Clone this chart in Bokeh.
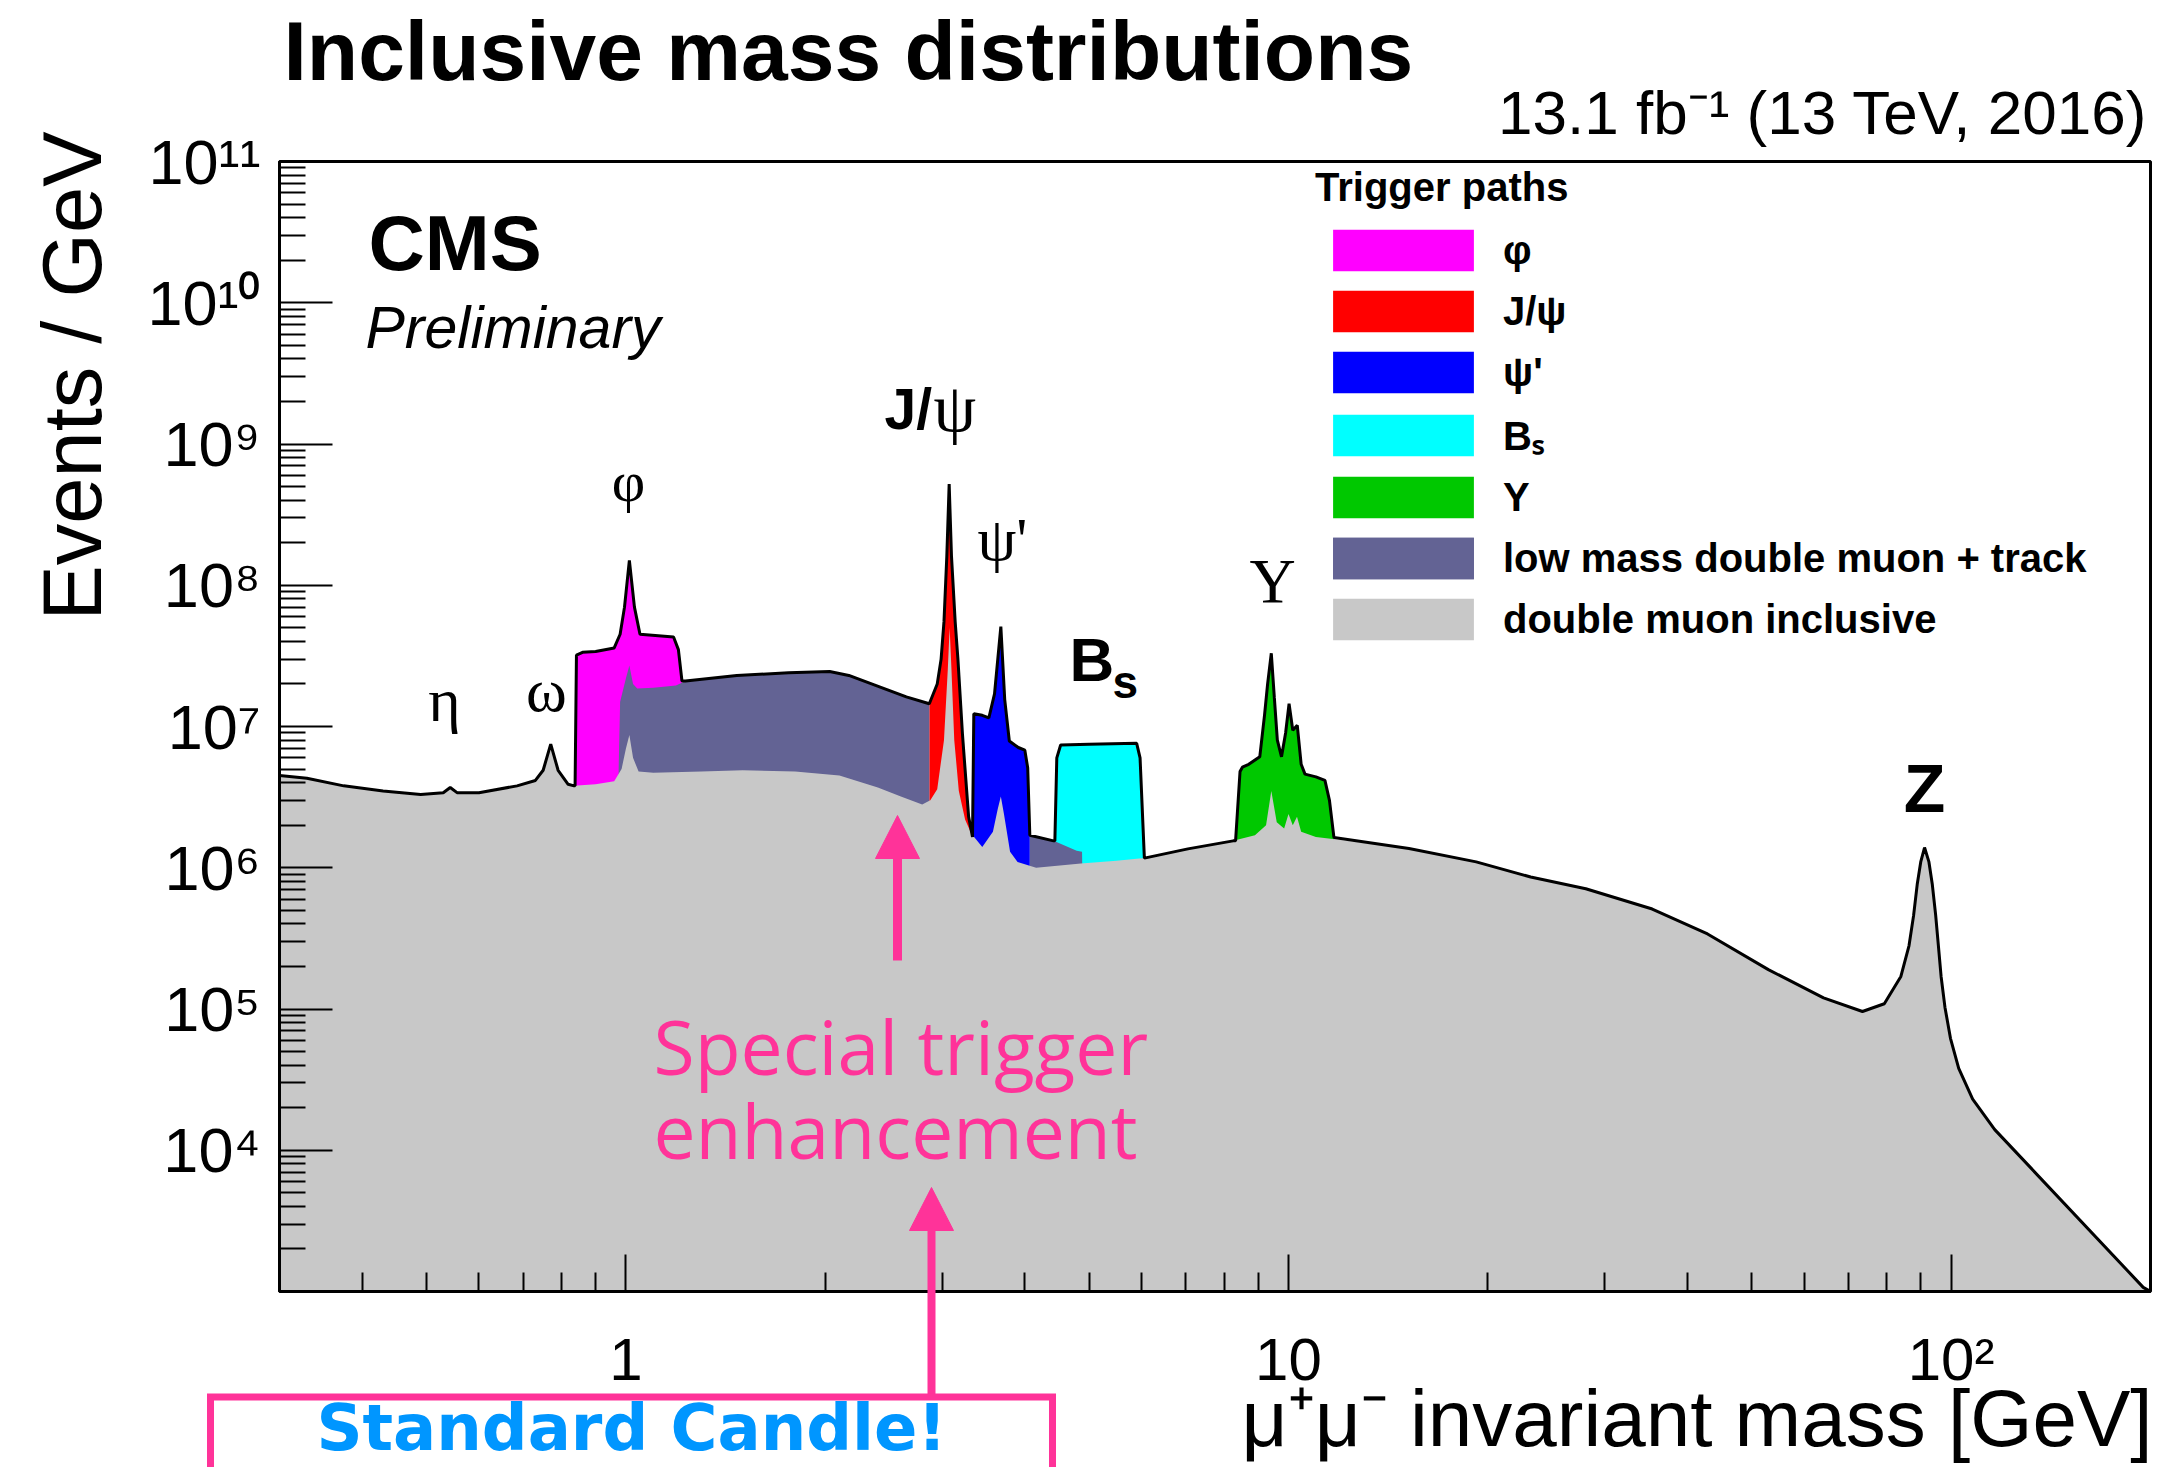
import math
from bokeh.plotting import figure
from bokeh.models import Range1d, FixedTicker, Legend, LegendItem
from bokeh.core.properties import value
from bokeh.embed import file_html
from bokeh.resources import INLINE

# ---------------- data ----------------
x_limits = (0.3, 200)          # mu+mu- invariant mass [GeV]
y_limits = (1e3, 1e11)         # Events / GeV

x_tick_values = [1, 10, 100]
x_tick_labels = ["1", "10", "10²"]
y_tick_values = [1e4, 1e5, 1e6, 1e7, 1e8, 1e9, 1e10, 1e11]
y_tick_labels = ["10⁴", "10⁵", "10⁶", "10⁷", "10⁸", "10⁹", "10¹⁰", "10¹¹"]

# double muon inclusive (grey)
incl_mass = [0.30, 0.33, 0.375, 0.43, 0.49, 0.53, 0.543, 0.556, 0.60, 0.685, 0.73, 0.75,
             0.77, 0.79, 0.818, 0.835, 0.90, 0.96, 0.985, 1.0, 1.012, 1.025, 1.045, 1.10,
             1.30, 1.50, 1.80, 2.10, 2.40, 2.60, 2.80, 2.88, 2.95, 3.02, 3.06, 3.08, 3.10,
             3.13, 3.18, 3.25, 3.32, 3.45, 3.58, 3.64, 3.68, 3.72, 3.80, 3.90, 4.16, 4.86,
             5.5, 6.06, 7.05, 8.25, 8.9, 9.25, 9.42, 9.6, 9.85, 10.0, 10.15, 10.3, 10.45,
             11.0, 11.66, 15.2, 19.2, 23.2, 28.1, 35.4, 42.9, 53.0, 64.2, 73.5, 79.3, 84.0,
             86.4, 87.8, 88.9, 90.0, 91.2, 92.6, 93.7, 94.8, 95.7, 96.6, 97.9, 99.8, 102.7,
             107.8, 116.4, 195.0, 200.0]
incl_events = [4.5e6, 4.3e6, 3.8e6, 3.5e6, 3.3e6, 3.4e6, 3.7e6, 3.4e6, 3.4e6, 3.8e6, 4.15e6, 4.9e6,
               7.5e6, 4.9e6, 3.9e6, 3.8e6, 3.9e6, 4.1e6, 5.0e6, 7.0e6, 8.7e6, 6.0e6, 4.8e6, 4.7e6,
               4.8e6, 4.9e6, 4.8e6, 4.5e6, 3.7e6, 3.2e6, 2.8e6, 3.0e6, 3.6e6, 8.0e6, 2.5e7, 5.0e7, 2.5e7,
               8.0e6, 3.5e6, 2.2e6, 1.75e6, 1.4e6, 1.8e6, 2.6e6, 3.2e6, 2.4e6, 1.3e6, 1.1e6, 1.0e6, 1.07e6,
               1.12e6, 1.17e6, 1.36e6, 1.55e6, 1.7e6, 2.0e6, 3.5e6, 2.1e6, 1.9e6, 2.4e6, 2.0e6, 2.3e6, 1.8e6,
               1.65e6, 1.6e6, 1.37e6, 1.1e6, 8.6e5, 7.1e5, 5.1e5, 3.4e5, 1.9e5, 1.2e5, 9.6e4, 1.09e5, 1.7e5,
               2.8e5, 4.6e5, 7.6e5, 1.1e6, 1.39e6, 1.1e6, 7.6e5, 4.6e5, 2.8e5, 1.7e5, 1.03e5, 6.2e4, 3.8e4,
               2.3e4, 1.4e4, 1.07e3, 1.0e3]

# low mass double muon + track (lavender), two mass windows
lowm1_mass = [0.975, 0.98, 1.0, 1.012, 1.025, 1.04, 1.10, 1.19, 1.23, 1.47, 1.76, 2.03, 2.17,
              2.42, 2.65, 2.87]
lowm1_events = [5.0e6, 1.5e7, 2.2e7, 2.7e7, 2.0e7, 1.86e7, 1.88e7, 1.95e7, 2.1e7, 2.3e7, 2.4e7,
                2.45e7, 2.3e7, 1.9e7, 1.62e7, 1.45e7]
lowm2_mass = [4.07, 4.42, 4.79, 4.88, 4.885]
lowm2_events = [1.7e6, 1.55e6, 1.32e6, 1.3e6, 9.0e5]

# phi trigger (magenta)
phi_mass = [0.838, 0.842, 0.86, 0.90, 0.96, 0.98, 0.995, 1.012, 1.03, 1.05, 1.18, 1.20, 1.215]
phi_events = [3.8e6, 3.2e7, 3.35e7, 3.4e7, 3.6e7, 4.5e7, 7.0e7, 1.5e8, 7.0e7, 4.5e7, 4.3e7,
              3.5e7, 2.1e7]

# J/psi trigger (red)
jpsi_mass = [2.87, 2.95, 2.99, 3.02, 3.05, 3.075, 3.10, 3.14, 3.17, 3.22, 3.29, 3.335]
jpsi_events = [1.45e7, 2.0e7, 3.0e7, 5.5e7, 1.6e8, 5.2e8, 1.6e8, 5.5e7, 3.0e7, 8.9e6, 2.3e6, 1.65e6]

# psi' trigger (blue)
psi2_mass = [3.335, 3.35, 3.45, 3.53, 3.60, 3.68, 3.73, 3.79, 3.91, 4.00, 4.04, 4.07]
psi2_events = [1.65e6, 1.23e7, 1.2e7, 1.15e7, 1.7e7, 5.1e7, 1.55e7, 7.9e6, 7.1e6, 6.8e6, 5.1e6, 1.7e6]

# Bs trigger (cyan)
bs_mass = [4.44, 4.47, 4.53, 5.0, 5.9, 5.97, 6.06]
bs_events = [1.55e6, 6.0e6, 7.4e6, 7.5e6, 7.6e6, 6.0e6, 1.17e6]

# Upsilon trigger (green)
ups_mass = [8.32, 8.45, 8.52, 8.71, 9.05, 9.2, 9.30, 9.42, 9.52, 9.62, 9.76, 9.9, 10.02, 10.15,
            10.31, 10.45, 10.59, 11.0, 11.35, 11.53, 11.71]
ups_events = [1.55e6, 4.8e6, 5.15e6, 5.4e6, 6.1e6, 1.2e7, 2.0e7, 3.3e7, 1.6e7, 8.0e6, 6.1e6, 9.0e6,
              1.45e7, 9.4e6, 1.02e7, 5.4e6, 4.6e6, 4.4e6, 4.15e6, 3.0e6, 1.64e6]

legend_labels = ["φ", "J/ψ", "ψ'", "Bₛ", "Υ", "low mass double muon + track", "double muon inclusive"]

# ---------------- styling ----------------
C_PHI, C_JPSI, C_PSI2, C_BS, C_UPS = "#FF00FF", "#FF0000", "#0000FF", "#00FFFF", "#00C800"
C_LOWM, C_INCL = "#636394", "#C8C8C8"
PINK, BLUE = "#FF3399", "#0096FF"
SANS, SERIF, ANNOT, WIDE = "Liberation Sans", "Liberation Serif", "Open Sans", "DejaVu Sans"
MID = {SANS: 0.3465, SERIF: 0.3375, ANNOT: 0.388, WIDE: 0.346}   # (ascent - descent) / 2 per em

W, H = 2163, 1467
FL, FR, FT, FB = 279, 2150, 161, 1291   # frame edges in pixels

p = figure(width=W, height=H, x_axis_type="log", y_axis_type="log",
           x_range=Range1d(*x_limits), y_range=Range1d(*y_limits),
           output_backend="svg", toolbar_location=None,
           min_border_left=FL, min_border_right=W - FR,
           min_border_top=FT, min_border_bottom=H - FB)
p.xgrid.visible = False
p.ygrid.visible = False
p.background_fill_color = "white"
p.border_fill_color = "white"
p.outline_line_color = "black"
p.outline_line_width = 3

# pixel position on the canvas -> data coordinates
lx0, lx1 = math.log10(x_limits[0]), math.log10(x_limits[1])
ly0, ly1 = math.log10(y_limits[0]), math.log10(y_limits[1])
def dx(px):
    return 10 ** (lx0 + (px - FL) / (FR - FL) * (lx1 - lx0))
def dy(py):
    return 10 ** (ly1 - (py - FT) / (FB - FT) * (ly1 - ly0))

# axes
for ax in (p.xaxis[0], p.yaxis[0]):
    ax.axis_line_width = 3
    ax.axis_line_color = "black"
    ax.major_tick_line_width = 2
    ax.minor_tick_line_width = 2
    ax.major_tick_line_color = "black"
    ax.minor_tick_line_color = "black"
    ax.major_tick_out = 0
    ax.minor_tick_out = 0
    ax.major_label_text_font = SANS
    ax.major_label_text_color = "black"
p.xaxis.major_label_text_font_size = "60px"
p.yaxis.major_label_text_font_size = "63px"

x_minor = [k * 10.0 ** n for n in (-1, 0, 1) for k in range(2, 10) if 0.3 < k * 10.0 ** n < 200]
y_minor = [k * 10.0 ** n for n in range(3, 11) for k in range(2, 10)]
p.xaxis.ticker = FixedTicker(ticks=x_tick_values, minor_ticks=x_minor)
p.yaxis.ticker = FixedTicker(ticks=y_tick_values, minor_ticks=y_minor)
p.xaxis.major_label_overrides = dict(zip(x_tick_values, x_tick_labels))
p.yaxis.major_label_overrides = dict(zip(y_tick_values, y_tick_labels))
p.xaxis.major_tick_in = 37
p.xaxis.minor_tick_in = 19
p.yaxis.major_tick_in = 53
p.yaxis.minor_tick_in = 26
p.xaxis.major_label_standoff = 34
p.yaxis.major_label_standoff = 19

# filled areas (higher stack layers first, lower layers painted over them)
BASE = 10
r_ups = p.varea(x=ups_mass, y1=BASE, y2=ups_events, fill_color=C_UPS)
r_bs = p.varea(x=bs_mass, y1=BASE, y2=bs_events, fill_color=C_BS)
r_psi2 = p.varea(x=psi2_mass, y1=BASE, y2=psi2_events, fill_color=C_PSI2)
r_jpsi = p.varea(x=jpsi_mass, y1=BASE, y2=jpsi_events, fill_color=C_JPSI)
r_phi = p.varea(x=phi_mass, y1=BASE, y2=phi_events, fill_color=C_PHI)
r_low1 = p.varea(x=lowm1_mass, y1=BASE, y2=lowm1_events, fill_color=C_LOWM)
r_low2 = p.varea(x=lowm2_mass, y1=BASE, y2=lowm2_events, fill_color=C_LOWM)
r_incl = p.varea(x=incl_mass, y1=BASE, y2=incl_events, fill_color=C_INCL)

# black outline along the top of the stack
def seg(ms, vs, lo, hi):
    return [(m, v) for m, v in zip(ms, vs) if lo <= m <= hi]
env = (seg(incl_mass, incl_events, 0, 0.836) + seg(phi_mass, phi_events, 0, 99)
       + seg(lowm1_mass, lowm1_events, 1.22, 2.8) + seg(jpsi_mass, jpsi_events, 0, 99)
       + seg(psi2_mass, psi2_events, 0, 99) + seg(lowm2_mass, lowm2_events, 4.08, 4.43)
       + seg(bs_mass, bs_events, 0, 99) + seg(incl_mass, incl_events, 6.1, 8.3)
       + seg(ups_mass, ups_events, 0, 99) + seg(incl_mass, incl_events, 11.8, 1000))
p.line([e[0] for e in env], [e[1] for e in env], line_color="black", line_width=3)

# legend
legend = Legend(items=[
    LegendItem(label=legend_labels[0], renderers=[r_phi]),
    LegendItem(label=legend_labels[1], renderers=[r_jpsi]),
    LegendItem(label=legend_labels[2], renderers=[r_psi2]),
    LegendItem(label=legend_labels[3], renderers=[r_bs]),
    LegendItem(label=legend_labels[4], renderers=[r_ups]),
    LegendItem(label=legend_labels[5], renderers=[r_low1, r_low2]),
    LegendItem(label=legend_labels[6], renderers=[r_incl]),
], location=(1036, 646), title="Trigger paths",
   title_text_font=SANS, title_text_font_style="bold", title_text_font_size="40px",
   title_text_color="black", title_standoff=14,
   label_text_font=SANS, label_text_font_style="bold", label_text_font_size="40px",
   label_text_color="black",
   glyph_width=176, glyph_height=52, label_standoff=12, spacing=9,
   padding=0, margin=0, border_line_alpha=0, background_fill_alpha=0)
p.add_layout(legend)

def txt(text, px, py, size, font=SANS, style="normal", color="black",
        align="left", angle=0.0):
    """Text whose alphabetic baseline passes through canvas pixel (px, py)."""
    k = MID[font] * size
    cx, cy = (px, py - k) if angle == 0 else (px - k, py)
    p.text(x=[dx(cx)], y=[dy(cy)], text=[text], text_font=value(font),
           text_font_size=value(f"{size}px"), text_font_style=value(style),
           text_color=color, text_align=value(align), text_baseline=value("middle"),
           angle=angle, level="overlay")

# titles and axis titles
txt("Inclusive mass distributions", 283, 80, 84, style="bold")
txt("13.1 fb⁻¹ (13 TeV, 2016)", 2147, 133, 62, align="right")
txt("Events / GeV", 101, 131, 83, align="right", angle=math.pi / 2)
txt("μ⁺μ⁻ invariant mass [GeV]", 2152, 1446, 80, align="right")
txt("CMS", 368, 270, 78, style="bold")
txt("Preliminary", 365, 348, 59, style="italic")

# resonance labels
txt("η", 444, 720, 62, font=SERIF, align="center")
txt("ω", 546, 710, 62, font=SERIF, align="center")
txt("φ", 628, 501, 58, font=SERIF, align="center")
txt("J/", 884, 428, 57, style="bold")
txt("ψ", 933, 430, 68, font=SERIF)
txt("ψ'", 977, 559, 62, font=SERIF)
txt("B", 1069, 680, 62, style="bold")
txt("s", 1112, 697, 46, style="bold")
txt("Υ", 1272, 603, 64, font=SERIF, align="center")
txt("Z", 1924, 811, 68, style="bold", align="center")

# pink annotations: text, arrows, box
txt("Special trigger", 653, 1075, 75, font=ANNOT, color=PINK)
txt("enhancement", 653, 1159, 75, font=ANNOT, color=PINK)

def arrow_up(px, py_tail, py_tip, width):
    p.segment(x0=[dx(px)], y0=[dy(py_tail)], x1=[dx(px)], y1=[dy(py_tip + 40)],
              line_color=PINK, line_width=width, level="overlay")
    p.patch(x=[dx(px - 22), dx(px + 22), dx(px)], y=[dy(py_tip + 43), dy(py_tip + 43), dy(py_tip)],
            fill_color=PINK, line_color=PINK, line_width=1, level="overlay")

arrow_up(897, 960, 815, 9)
arrow_up(931, 1397, 1187, 8)
p.line(x=[dx(210), dx(210), dx(1052), dx(1052)],
       y=[dy(1600), dy(1396.5), dy(1396.5), dy(1600)],
       line_color=PINK, line_width=7, line_join="miter", level="overlay")
txt("Standard Candle!", 631, 1450, 64, font=WIDE, style="bold", color=BLUE, align="center")

with open("out.html", "w", encoding="utf-8") as f:
    f.write(file_html(p, INLINE))
